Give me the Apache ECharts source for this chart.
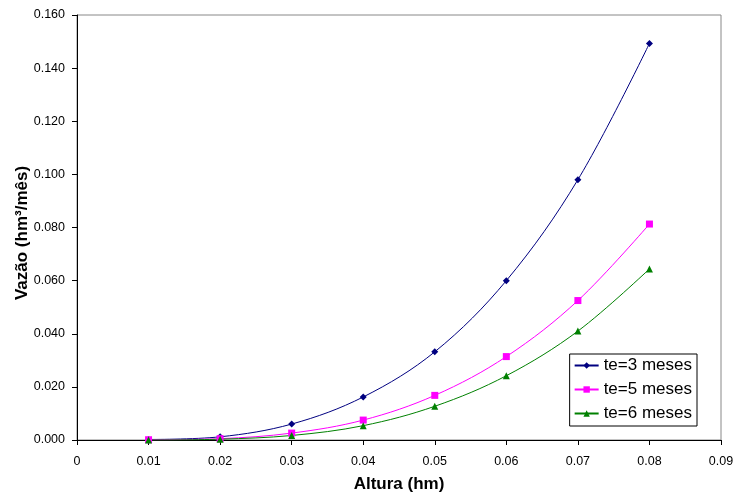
<!DOCTYPE html>
<html><head><meta charset="utf-8">
<script src="https://cdn.jsdelivr.net/npm/echarts@6/dist/echarts.min.js"></script>
<style>html,body{margin:0;padding:0;background:#fff}#c{width:737px;height:495px}</style>
</head><body><div id="c"></div>
<script>
const alturas = [0.01, 0.02, 0.03, 0.04, 0.05, 0.06, 0.07, 0.08];
const te3 = [0.0002, 0.0012, 0.0060, 0.0162, 0.0332, 0.0600, 0.0980, 0.1493];
const te5 = [0.0001, 0.0005, 0.0026, 0.0075, 0.0168, 0.0314, 0.0525, 0.0813];
const te6 = [0.0000, 0.0003, 0.0017, 0.0054, 0.0127, 0.0242, 0.0410, 0.0644];
const seriesNames = ['te=3 meses', 'te=5 meses', 'te=6 meses'];
const xTitle = 'Altura (hm)';
const yTitle = 'Vazão (hm³/mês)';

const font = 'Arial, "Liberation Sans", sans-serif';
function mk(name, vals, color, symbol, size) {
  return {
    name, type: 'line', smooth: 0.35,
    data: alturas.map((a, i) => [a, vals[i]]),
    symbol, symbolSize: size,
    lineStyle: { color, width: 1 },
    itemStyle: { color },
    emphasis: { disabled: true }
  };
}
const chart = echarts.init(document.getElementById('c'));
chart.setOption({
  animation: false,
  grid: { left: 77, right: 16, top: 15, bottom: 55, show: true, borderColor: '#888', borderWidth: 1,
    containLabel: false, outerBoundsMode: 'none' },
  legend: {
    right: 40, top: 354, orient: 'vertical', itemGap: 7,
    itemWidth: 24, itemHeight: 8,
    borderColor: '#000', borderWidth: 1, padding: [3, 5, 4, 4],
    textStyle: { fontFamily: font, fontSize: 17, color: '#000' },
    backgroundColor: '#fff',
    data: seriesNames
  },
  xAxis: {
    type: 'value', min: 0, max: 0.09, interval: 0.01,
    name: xTitle, nameLocation: 'middle', nameGap: 36, nameMoveOverlap: false,
    nameTextStyle: { fontFamily: font, fontSize: 17, fontWeight: 'bold', color: '#000' },
    axisLine: { lineStyle: { color: '#000' } },
    axisTick: { lineStyle: { color: '#000' }, length: 5 },
    splitLine: { show: false },
    axisLabel: { fontFamily: font, fontSize: 12.5, color: '#000', margin: 15,
      formatter: v => v === 0 ? '0' : v.toFixed(2) }
  },
  yAxis: {
    type: 'value', min: 0, max: 0.16, interval: 0.02,
    name: yTitle, nameLocation: 'middle', nameGap: 46, nameMoveOverlap: false,
    nameTextStyle: { fontFamily: font, fontSize: 17, fontWeight: 'bold', color: '#000', padding: [0, 11, 0, 0] },
    axisLine: { show: true, lineStyle: { color: '#000' } },
    axisTick: { show: true, lineStyle: { color: '#000' }, length: 5 },
    splitLine: { show: false },
    axisLabel: { fontFamily: font, fontSize: 12.5, color: '#000', margin: 12,
      formatter: v => v.toFixed(3) }
  },
  series: [
    mk(seriesNames[0], te3, '#000080', 'diamond', 7),
    mk(seriesNames[1], te5, '#ff00ff', 'rect', 7),
    mk(seriesNames[2], te6, '#008000', 'triangle', 7)
  ]
});
</script></body></html>
